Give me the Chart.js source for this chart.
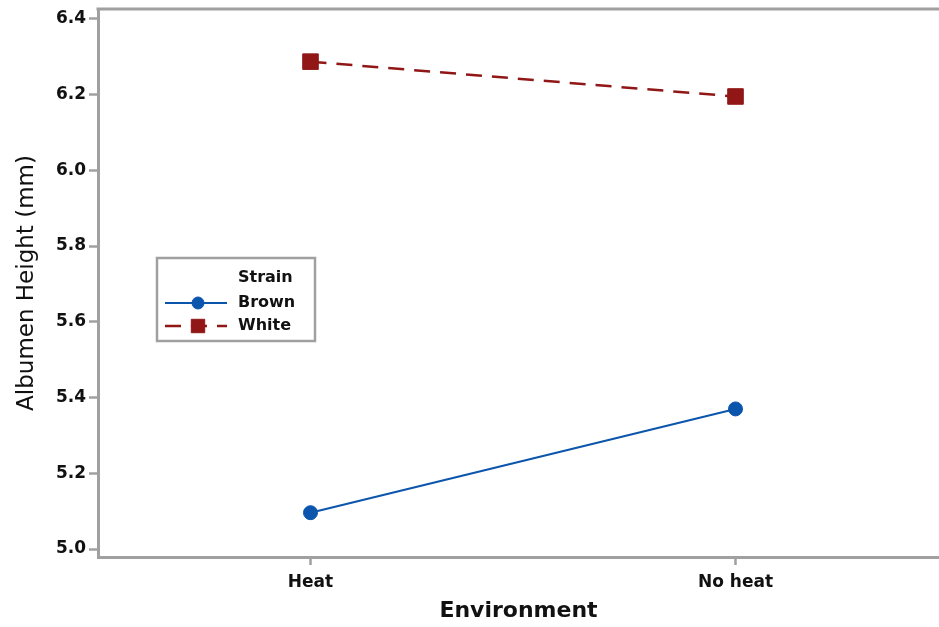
<!DOCTYPE html>
<html>
<head>
<meta charset="utf-8">
<script src="https://cdn.jsdelivr.net/npm/chart.js@4/dist/chart.umd.min.js"></script>
<style>
  html, body { margin: 0; padding: 0; background: #fff; overflow: hidden; }
  canvas { display: block; }
</style>
</head>
<body>
<canvas id="c" width="939" height="627"></canvas>
<script>
// Mean albumen height by environment, one series per strain
const environments = ['Heat', 'No heat'];
const strainNames = ['Brown', 'White'];
const brownHeight = [5.096, 5.370];
const whiteHeight = [6.287, 6.195];
const yTickValues = [5.0, 5.2, 5.4, 5.6, 5.8, 6.0, 6.2, 6.4];
const legendTitle = 'Strain';
const xTitle = 'Environment';
const yTitle = 'Albumen Height (mm)';

const AXIS_GREY = '#a0a0a0';
const TEXT = '#111111';
const BLUE = '#0b55ad';
const RED = '#911717';
const FONT = '"DejaVu Sans", Verdana, sans-serif';

const toPoints = vals => vals.map((v, i) => ({ x: i, y: v }));

// Top edge of the plot frame
const frameTop = {
  id: 'frameTop',
  beforeDatasetsDraw(chart) {
    const { ctx, chartArea: a } = chart;
    ctx.save();
    ctx.strokeStyle = AXIS_GREY;
    ctx.lineWidth = 3;
    ctx.beginPath();
    ctx.moveTo(a.left - 1.5, a.top);
    ctx.lineTo(a.right, a.top);
    ctx.stroke();
    ctx.restore();
  }
};

// Boxed legend inside the plot, each entry shows line + marker
const strainLegend = {
  id: 'strainLegend',
  afterDatasetsDraw(chart) {
    const { ctx, chartArea: a } = chart;
    const x0 = a.left + 59, y0 = a.top + 249, w = 158, h = 83;
    ctx.save();
    ctx.fillStyle = '#ffffff';
    ctx.fillRect(x0, y0, w, h);
    ctx.strokeStyle = AXIS_GREY;
    ctx.lineWidth = 2.5;
    ctx.strokeRect(x0, y0, w, h);

    ctx.font = 'bold 16px ' + FONT;
    ctx.fillStyle = TEXT;
    ctx.textAlign = 'left';
    ctx.textBaseline = 'middle';
    ctx.fillText(legendTitle, x0 + 81, y0 + 20);

    chart.data.datasets.forEach((ds, i) => {
      const cy = y0 + 45 + i * 23;
      ctx.strokeStyle = ds.borderColor;
      ctx.lineWidth = ds.borderWidth;
      ctx.setLineDash(ds.borderDash || []);
      ctx.beginPath();
      ctx.moveTo(x0 + 8, cy);
      ctx.lineTo(x0 + 70, cy);
      ctx.stroke();
      ctx.setLineDash([]);
      ctx.fillStyle = ds.pointBackgroundColor;
      ctx.strokeStyle = ds.pointBorderColor;
      ctx.lineWidth = 1;
      Chart.helpers.drawPoint(ctx, {
        pointStyle: ds.pointStyle,
        radius: ds.pointStyle === 'rect' ? 9.5 : 6,
        borderWidth: 1,
        rotation: 0
      }, x0 + 41, cy);
      ctx.fillStyle = TEXT;
      ctx.fillText(ds.label, x0 + 81, cy);
    });
    ctx.restore();
  }
};

new Chart(document.getElementById('c'), {
  type: 'line',
  data: {
    datasets: [
      {
        label: strainNames[0],
        data: toPoints(brownHeight),
        borderColor: BLUE,
        borderWidth: 2,
        pointStyle: 'circle',
        pointRadius: 7,
        pointHoverRadius: 7,
        pointBackgroundColor: BLUE,
        pointBorderColor: BLUE,
        pointBorderWidth: 1
      },
      {
        label: strainNames[1],
        data: toPoints(whiteHeight),
        borderColor: RED,
        borderWidth: 2.5,
        borderDash: [16, 10],
        pointStyle: 'rect',
        pointRadius: 11,
        pointHoverRadius: 11,
        pointBackgroundColor: RED,
        pointBorderColor: RED,
        pointBorderWidth: 1
      }
    ]
  },
  options: {
    responsive: false,
    animation: false,
    layout: { autoPadding: false, padding: { top: 9, left: 0, right: 0, bottom: 0 } },
    plugins: {
      legend: { display: false },
      tooltip: { enabled: false }
    },
    scales: {
      x: {
        type: 'linear',
        min: -0.5,
        max: 1.4788,
        afterBuildTicks: s => { s.ticks = environments.map((_, i) => ({ value: i })); },
        afterFit: s => {
          s.height = 70;
          s.paddingLeft = 0; s.paddingRight = 0;
        },
        ticks: {
          color: TEXT,
          font: { family: FONT, size: 17, weight: 'bold' },
          padding: 7,
          callback: v => environments[v]
        },
        grid: {
          display: true,
          drawOnChartArea: false,
          drawTicks: true,
          tickLength: 8,
          tickWidth: 2.5,
          tickColor: AXIS_GREY
        },
        border: { display: true, color: AXIS_GREY, width: 3 },
        title: {
          display: true,
          text: xTitle,
          color: TEXT,
          font: { family: FONT, size: 22, weight: 'bold' },
          padding: { top: 0, bottom: 3 }
        }
      },
      y: {
        type: 'linear',
        min: 4.979,
        max: 6.426,
        afterBuildTicks: s => { s.ticks = yTickValues.map(v => ({ value: v })); },
        afterFit: s => {
          s.width = 98;
          s.paddingTop = 0; s.paddingBottom = 0;
        },
        ticks: {
          color: TEXT,
          font: { family: FONT, size: 17, weight: 'bold' },
          padding: 3,
          callback: v => Number(v).toFixed(1)
        },
        grid: {
          display: true,
          drawOnChartArea: false,
          drawTicks: true,
          tickLength: 9,
          tickWidth: 2.5,
          tickColor: AXIS_GREY
        },
        border: { display: true, color: AXIS_GREY, width: 3 },
        title: {
          display: true,
          text: yTitle,
          color: TEXT,
          font: { family: FONT, size: 23, weight: 'normal' },
          padding: { top: 13, bottom: 0 }
        }
      }
    }
  },
  plugins: [frameTop, strainLegend]
});
</script>
</body>
</html>
